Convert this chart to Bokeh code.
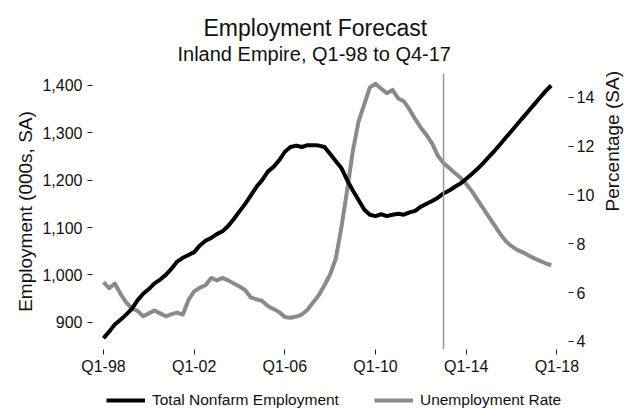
import math
from bokeh.plotting import figure
from bokeh.layouts import column
from bokeh.models import (Range1d, LinearAxis, Span, Legend, LegendItem, Title,
                          FixedTicker, NumeralTickFormatter, ColumnDataSource)
from bokeh.embed import file_html
from bokeh.resources import INLINE

# ---- data (quarterly, Q1-98 .. Q4-17) ----
quarter_index = list(range(80))
employment = [866, 880, 895, 905, 916, 928, 946, 960, 970, 982,
              990, 1000, 1013, 1028, 1036, 1042, 1048, 1062, 1072, 1078,
              1086, 1092, 1103, 1118, 1134, 1150, 1168, 1186, 1200, 1218,
              1228, 1242, 1260, 1270, 1273, 1270, 1274, 1274, 1273, 1270,
              1255, 1240, 1225, 1200, 1178, 1158, 1138, 1127, 1124, 1128,
              1124, 1127, 1129, 1127, 1132, 1135, 1144, 1150, 1156, 1163,
              1172, 1178, 1186, 1193, 1203, 1213, 1224, 1236, 1249, 1262,
              1276, 1290, 1304, 1318, 1332, 1346, 1360, 1374, 1388, 1400]
unemployment = [6.43, 6.18, 6.37, 5.95, 5.6, 5.35, 5.25, 5.03, 5.15, 5.27,
                5.15, 5.03, 5.12, 5.18, 5.1, 5.7, 6.05, 6.2, 6.3, 6.6,
                6.5, 6.6, 6.5, 6.37, 6.25, 6.1, 5.8, 5.72, 5.66, 5.45,
                5.33, 5.2, 5.0, 4.97, 5.02, 5.1, 5.3, 5.6, 5.9, 6.3,
                6.75, 7.4, 8.7, 10.2, 11.8, 13.0, 13.7, 14.4, 14.55, 14.35,
                14.16, 14.3, 13.95, 13.83, 13.5, 13.1, 12.75, 12.45, 12.1, 11.6,
                11.3, 11.1, 10.9, 10.7, 10.45, 10.15, 9.8, 9.45, 9.1, 8.75,
                8.4, 8.1, 7.9, 7.75, 7.65, 7.52, 7.4, 7.3, 7.2, 7.12]
forecast_start = 60          # Q1-13
x_tick_positions = [0, 16, 32, 48, 64, 80]
x_tick_labels = ["Q1-98", "Q1-02", "Q1-06", "Q1-10", "Q1-14", "Q1-18"]
emp_ticks = [900, 1000, 1100, 1200, 1300, 1400]
rate_ticks = [4, 6, 8, 10, 12, 14]
series_names = ["Total Nonfarm Employment", "Unemployment Rate"]

FONT = "Liberation Sans"
BLACK = "#000000"
GRAY = "#8a8a8a"

src = ColumnDataSource(dict(q=quarter_index, emp=employment, rate=unemployment))

p = figure(width=639, height=379, output_backend="svg", toolbar_location=None,
           x_range=Range1d(-1.94, 82.05), y_range=Range1d(842.3, 1425.3),
           min_border_left=92, min_border_right=71, min_border_top=73,
           min_border_bottom=30, title="")
p.extra_y_ranges = {"rate": Range1d(3.67, 14.97)}
p.xgrid.visible = False
p.ygrid.visible = False
p.outline_line_color = None
p.background_fill_color = "white"
p.border_fill_color = "white"

def style(ax):
    ax.axis_line_color = None
    ax.major_tick_out = 5
    ax.major_tick_in = 0
    ax.minor_tick_line_color = None
    ax.major_tick_line_color = "#222222"
    ax.major_tick_line_width = 1
    ax.major_label_text_font = FONT
    ax.major_label_text_font_size = "16px"
    ax.major_label_text_color = "#111111"
    ax.major_label_standoff = 4
    ax.axis_label_text_font = FONT
    ax.axis_label_text_font_size = "19px"
    ax.axis_label_text_font_style = "normal"
    ax.axis_label_text_color = "#111111"

xa = p.xaxis[0]
xa.ticker = FixedTicker(ticks=x_tick_positions)
xa.major_label_overrides = {pos: lab for pos, lab in zip(x_tick_positions, x_tick_labels)}
style(xa)
xa.major_label_standoff = 3

ya = p.yaxis[0]
ya.ticker = FixedTicker(ticks=emp_ticks)
ya.formatter = NumeralTickFormatter(format="0,0")
ya.axis_label = "Employment (000s, SA)"
style(ya)
ya.major_label_standoff = 5
ya.axis_label_standoff = 3

yr = LinearAxis(y_range_name="rate", axis_label="Percentage (SA)")
yr.ticker = FixedTicker(ticks=rate_ticks)
style(yr)
yr.major_label_standoff = 3
yr.axis_label_standoff = 15
yr.axis_label_orientation = math.pi / 2
p.add_layout(yr, "right")

p.add_layout(Span(location=forecast_start, dimension="height",
                  line_color="#9a9a9a", line_width=1.5))

p.line("q", "rate", source=src, y_range_name="rate",
       line_color=GRAY, line_width=4, line_join="round")
p.line("q", "emp", source=src, line_color=BLACK, line_width=4,
       line_join="round")

sub = Title(text="Inland Empire, Q1-98 to Q4-17", align="left", offset=85,
            text_font=FONT, text_font_size="20px", text_font_style="normal",
            text_color="#111111", standoff=17)
main = Title(text="Employment Forecast", align="left", offset=111,
             text_font=FONT, text_font_size="23px", text_font_style="normal",
             text_color="#111111", standoff=-16)
p.add_layout(sub, "above")
p.add_layout(main, "above")

# ---- legend strip below the chart (its own lines fall outside its view) ----
leg = figure(width=639, height=30, output_backend="svg", toolbar_location=None,
             x_axis_location=None, y_axis_location=None,
             x_range=Range1d(0, 1), y_range=Range1d(0, 1),
             min_border_left=0, min_border_right=0, min_border_top=0,
             min_border_bottom=0, title="")
leg.grid.visible = False
leg.outline_line_color = None
leg.border_fill_color = "white"
k_emp = leg.line("q", "emp", source=src, line_color=BLACK, line_width=4)
k_rate = leg.line("q", "rate", source=src, line_color=GRAY, line_width=4)
legend = Legend(items=[LegendItem(label=series_names[0], renderers=[k_emp]),
                       LegendItem(label=series_names[1], renderers=[k_rate])],
                orientation="horizontal", location=(14, 0),
                border_line_color=None, background_fill_alpha=0,
                padding=0, margin=0, spacing=35, glyph_width=39,
                glyph_height=18, label_height=18, label_standoff=7,
                label_text_font=FONT, label_text_font_size="15.5px",
                label_text_color="#111111")
leg.add_layout(legend, "center")

layout = column(p, leg, spacing=0)
open("out.html", "w").write(file_html(layout, INLINE))
